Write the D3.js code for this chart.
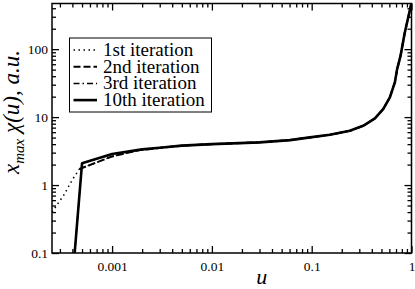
<!DOCTYPE html>
<html>
<head>
<meta charset="utf-8">
<script src="https://d3js.org/d3.v7.min.js"></script>
<style>
  body { margin: 0; background: #fff; }
</style>
</head>
<body>
<div id="chart"></div>
<script>
// ---- data ----
var xTicks = [0.001, 0.01, 0.1, 1];
var xTickLabels = ["0.001", "0.01", "0.1", "1"];
var yTicks = [0.1, 1, 10, 100];
var yTickLabels = ["0.1", "1", "10", "100"];

// shared tail (all iterations coincide here)
var uTail = [0.005, 0.01, 0.03, 0.0607, 0.0962, 0.152, 0.241, 0.328, 0.43, 0.52, 0.607, 0.681, 0.718, 0.776, 0.857, 1.0];
var vTail = [3.8, 4.0, 4.25, 4.59, 5.03, 5.49, 6.29, 7.45, 9.57, 13.1, 19.5, 32.4, 50.8, 79.6, 176, 480];

var u10 = [0.000415, 0.0005, 0.001, 0.002, 0.003];
var v10 = [0.075, 2.1, 2.86, 3.35, 3.55];

var u3 = [0.000415, 0.0005, 0.001, 0.002, 0.003];
var v3 = [0.075, 2.08, 2.84, 3.34, 3.55];

var u2 = [0.00047, 0.001, 0.0019, 0.003];
var v2 = [1.72, 2.64, 3.27, 3.52];

var u1 = [0.00025, 0.00033, 0.0004, 0.00047, 0.001, 0.0019, 0.003];
var v1 = [0.4, 0.72, 1.2, 1.72, 2.64, 3.27, 3.52];

var legendNames = ["1st iteration", "2nd iteration", "3rd iteration", "10th iteration"];

var FONT = "'Liberation Serif', 'Times New Roman', serif";

// ---- layout ----
var W = 415, H = 289;
var margin = { top: 3.5, right: 3.5, bottom: 36, left: 52 };
var width = W - margin.left - margin.right,
    height = H - margin.top - margin.bottom;

var x = d3.scaleLog().domain([0.00025, 1]).range([0, width]);
var y = d3.scaleLog().domain([0.1, 470]).range([height, 0]);

var svg = d3.select("#chart").append("svg")
  .attr("width", W).attr("height", H)
  .style("font-family", FONT);

var g = svg.append("g")
  .attr("transform", "translate(" + margin.left + "," + margin.top + ")");

g.append("clipPath").attr("id", "clip")
  .append("rect").attr("width", width).attr("height", height);

// minor ticks
function minors(scale) {
  var d = scale.domain(), out = [];
  for (var e = -5; e <= 3; e++) {
    for (var k = 2; k <= 9; k++) {
      var v = k * Math.pow(10, e);
      if (v > d[0] && v < d[1]) out.push(v);
    }
  }
  return out;
}

function styleAxis(sel) {
  sel.attr("font-family", null);
  sel.select(".domain").remove();
  sel.selectAll("line").attr("stroke", "#000").attr("stroke-width", 1.3);
  sel.selectAll("text").style("font-family", FONT).attr("font-size", 13.5).attr("fill", "#000");
}

var majorLen = 7, minorLen = 4;

// bottom
g.append("g").attr("transform", "translate(0," + height + ")")
  .call(d3.axisBottom(x).tickValues(minors(x)).tickSize(-minorLen).tickFormat(""))
  .call(styleAxis);
g.append("g").attr("transform", "translate(0," + height + ")")
  .call(d3.axisBottom(x).tickValues(xTicks).tickSize(-majorLen).tickPadding(8)
    .tickFormat(function (d, i) { return xTickLabels[i]; }))
  .call(styleAxis);
// top
g.append("g")
  .call(d3.axisTop(x).tickValues(minors(x)).tickSize(-minorLen).tickFormat(""))
  .call(styleAxis);
g.append("g")
  .call(d3.axisTop(x).tickValues(xTicks).tickSize(-majorLen).tickFormat(""))
  .call(styleAxis);
// left
g.append("g")
  .call(d3.axisLeft(y).tickValues(minors(y)).tickSize(-minorLen).tickFormat(""))
  .call(styleAxis);
g.append("g")
  .call(d3.axisLeft(y).tickValues(yTicks).tickSize(-majorLen).tickPadding(4)
    .tickFormat(function (d, i) { return yTickLabels[i]; }))
  .call(styleAxis);
// right
g.append("g").attr("transform", "translate(" + width + ",0)")
  .call(d3.axisRight(y).tickValues(minors(y)).tickSize(-minorLen).tickFormat(""))
  .call(styleAxis);
g.append("g").attr("transform", "translate(" + width + ",0)")
  .call(d3.axisRight(y).tickValues(yTicks).tickSize(-majorLen).tickFormat(""))
  .call(styleAxis);

// frame
g.append("rect").attr("width", width).attr("height", height)
  .attr("fill", "none").attr("stroke", "#000").attr("stroke-width", 1.5);

// series
var line = d3.line().x(function (d) { return x(d[0]); }).y(function (d) { return y(d[1]); });
function pts(u, v) { return u.map(function (d, i) { return [d, v[i]]; }); }

var styles = [
  { dash: "1.5,3.5", w: 1.5 },
  { dash: "7,3", w: 2 },
  { dash: "6,3,1.5,3", w: 1.5 },
  { dash: null, w: 2.6 }
];
var series = [
  pts(u1.concat(uTail), v1.concat(vTail)),
  pts(u2.concat(uTail), v2.concat(vTail)),
  pts(u3.concat(uTail), v3.concat(vTail)),
  pts(u10.concat(uTail), v10.concat(vTail))
];

var plot = g.append("g").attr("clip-path", "url(#clip)");
series.forEach(function (s, i) {
  plot.append("path").attr("d", line(s))
    .attr("fill", "none").attr("stroke", "#000")
    .attr("stroke-width", styles[i].w)
    .attr("stroke-dasharray", styles[i].dash)
    .attr("stroke-linejoin", "round");
});

// legend
var lg = svg.append("g");
lg.append("rect").attr("x", 69.5).attr("y", 38).attr("width", 142).attr("height", 74)
  .attr("fill", "#fff").attr("stroke", "#000").attr("stroke-width", 1);
legendNames.forEach(function (name, i) {
  var cy = 50 + i * 16.7;
  lg.append("line").attr("x1", 73.5).attr("x2", 97).attr("y1", cy).attr("y2", cy)
    .attr("stroke", "#000").attr("stroke-width", styles[i].w)
    .attr("stroke-dasharray", styles[i].dash);
  lg.append("text").attr("x", 103).attr("y", cy + 6)
    .attr("font-size", 19).text(name);
});

// axis titles
svg.append("text")
  .attr("x", margin.left + x(0.0316)).attr("y", 284)
  .attr("text-anchor", "middle")
  .attr("font-size", 22).attr("font-style", "italic")
  .text("u");

var yl = svg.append("text")
  .attr("transform", "translate(19,112) rotate(-90)")
  .attr("text-anchor", "middle")
  .attr("font-size", 23).attr("font-style", "italic");
yl.append("tspan").text("x");
yl.append("tspan").attr("dy", 5).attr("font-size", 15).text("max");
yl.append("tspan").attr("dy", -5).text(" \u03c7(u), a.u.");
</script>
</body>
</html>
